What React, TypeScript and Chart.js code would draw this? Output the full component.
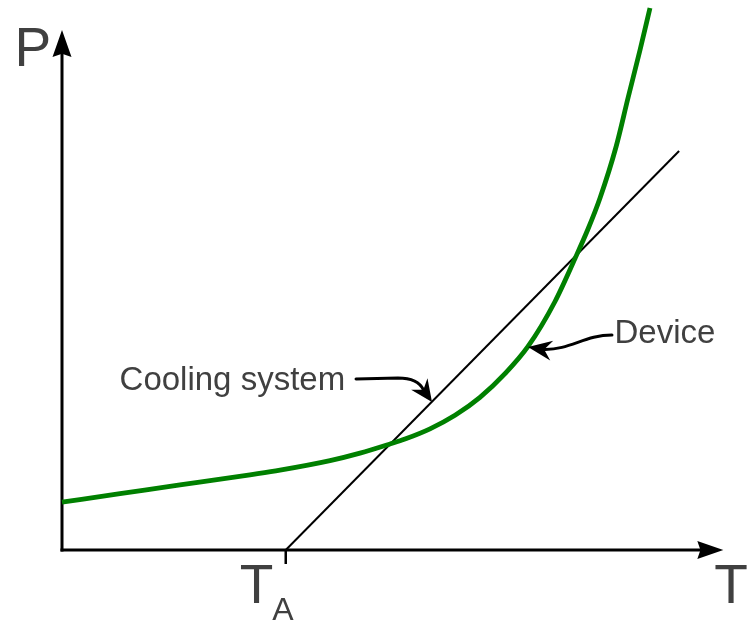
import React, { useEffect, useRef } from "react";
import { Chart, registerables } from "chart.js";

Chart.register(...registerables);

// Device power curve (T, P) in arbitrary units
const deviceT = [0.0, 0.879, 1.788, 2.848, 3.303, 4.061, 4.515, 4.97, 5.197, 5.576, 5.955, 6.333, 6.712, 7.061, 7.47, 7.773, 7.97, 8.152, 8.394, 8.576, 8.758, 8.909];
const deviceP = [0.887, 1.043, 1.204, 1.393, 1.478, 1.654, 1.793, 1.963, 2.054, 2.243, 2.494, 2.826, 3.265, 3.769, 4.602, 5.398, 5.944, 6.519, 7.463, 8.37, 9.259, 10.037];

// Cooling system line
const coolingT = [3.39, 9.35];
const coolingP = [0.0, 7.39];

// Ambient temperature tick
const ambientT = 3.39;

const axisLabelX = "T";
const axisLabelY = "P";
const ambientLabel = "T";
const ambientSub = "A";
const deviceLabel = "Device";
const coolingLabel = "Cooling system";

const TEXT = "#404040";
const FONT = "Liberation Sans, Arial, Helvetica, sans-serif";

function arrowHead(ctx: CanvasRenderingContext2D, tx: number, ty: number, fx: number, fy: number, len: number, hw: number, notch: number) {
  let dx = tx - fx;
  let dy = ty - fy;
  const d = Math.hypot(dx, dy) || 1;
  dx /= d;
  dy /= d;
  const px = -dy;
  const py = dx;
  const bx = tx - dx * len;
  const by = ty - dy * len;
  const nx = tx - dx * len * notch;
  const ny = ty - dy * len * notch;
  ctx.beginPath();
  ctx.moveTo(tx, ty);
  ctx.lineTo(bx + px * hw, by + py * hw);
  ctx.lineTo(nx, ny);
  ctx.lineTo(bx - px * hw, by - py * hw);
  ctx.closePath();
  ctx.fill();
}

const diagramPlugin = {
  id: "diagram",
  beforeDatasetsDraw(chart: any) {
    const ctx: CanvasRenderingContext2D = chart.ctx;
    const xs = chart.scales.x;
    const ys = chart.scales.y;
    const X = (v: number) => xs.getPixelForValue(v);
    const Y = (v: number) => ys.getPixelForValue(v);
    ctx.save();
    ctx.strokeStyle = "#000";
    ctx.fillStyle = "#000";
    ctx.lineWidth = 3;
    ctx.lineCap = "butt";
    const ox = X(0);
    const oy = Y(0);
    // vertical axis
    const vTip = Y(9.63);
    ctx.beginPath();
    ctx.moveTo(ox, oy + 1.5);
    ctx.lineTo(ox, vTip + 20);
    ctx.stroke();
    arrowHead(ctx, ox, vTip, ox, vTip + 10, 27, 9.5, 0.88);
    // horizontal axis
    const hTip = X(10.02);
    ctx.beginPath();
    ctx.moveTo(ox - 1.5, oy);
    ctx.lineTo(hTip - 20, oy);
    ctx.stroke();
    arrowHead(ctx, hTip, oy, hTip - 10, oy, 26, 9, 0.88);
    // ambient tick
    ctx.lineWidth = 2.5;
    ctx.beginPath();
    ctx.moveTo(X(ambientT), oy);
    ctx.lineTo(X(ambientT), oy + 14);
    ctx.stroke();
    ctx.restore();
  },
  afterDatasetsDraw(chart: any) {
    const ctx: CanvasRenderingContext2D = chart.ctx;
    const xs = chart.scales.x;
    const ys = chart.scales.y;
    const X = (v: number) => xs.getPixelForValue(v);
    const Y = (v: number) => ys.getPixelForValue(v);
    ctx.save();
    ctx.fillStyle = TEXT;
    ctx.textBaseline = "alphabetic";
    // axis labels
    ctx.font = `55px ${FONT}`;
    ctx.textAlign = "left";
    ctx.fillText(axisLabelY, X(-0.72), Y(8.963));
    ctx.textAlign = "center";
    ctx.fillText(axisLabelX, X(10.136), Y(-0.981));
    ctx.fillText(ambientLabel, X(2.947), Y(-0.981));
    ctx.font = `32px ${FONT}`;
    ctx.fillText(ambientSub, X(3.348), Y(-1.296));
    // annotation labels
    ctx.font = `33px ${FONT}`;
    ctx.textAlign = "right";
    ctx.fillText(coolingLabel, X(4.29), Y(2.963));
    ctx.textAlign = "left";
    ctx.fillText(deviceLabel, X(8.371), Y(3.833));

    // annotation arrows
    ctx.strokeStyle = "#000";
    ctx.fillStyle = "#000";
    ctx.lineWidth = 3;
    ctx.lineCap = "round";
    // cooling system arrow
    ctx.beginPath();
    ctx.moveTo(X(4.455), Y(3.167));
    ctx.lineTo(X(5.091), Y(3.185));
    ctx.quadraticCurveTo(X(5.394), Y(3.185), X(5.477), Y(2.963));
    ctx.stroke();
    arrowHead(ctx, X(5.606), Y(2.741), X(5.424), Y(3.056), 22, 10, 0.68);
    // device arrow
    ctx.beginPath();
    ctx.moveTo(X(8.333), Y(3.981));
    ctx.bezierCurveTo(X(7.924), Y(3.981), X(7.697), Y(3.704), X(7.303), Y(3.715));
    ctx.stroke();
    arrowHead(ctx, X(7.061), Y(3.759), X(7.409), Y(3.694), 24, 10, 0.68);
    ctx.restore();
  },
};

export default function App() {
  const ref = useRef<HTMLCanvasElement | null>(null);
  useEffect(() => {
    if (!ref.current) return;
    const chart = new Chart(ref.current, {
      type: "line",
      data: {
        datasets: [
          {
            label: "Device",
            data: deviceT.map((t, i) => ({ x: t, y: deviceP[i] })),
            borderColor: "#008000",
            borderWidth: 4.8,
            pointRadius: 0,
            cubicInterpolationMode: "monotone",
            fill: false,
            clip: false,
          } as any,
          {
            label: "Cooling system",
            data: coolingT.map((t, i) => ({ x: t, y: coolingP[i] })),
            borderColor: "#000000",
            borderWidth: 2,
            pointRadius: 0,
            fill: false,
            clip: false,
          } as any,
        ],
      },
      options: {
        responsive: false,
        animation: false,
        devicePixelRatio: 1,
        layout: { padding: { left: 62, right: 31, top: 10, bottom: 71 } },
        scales: {
          x: { type: "linear", min: 0, max: 10, display: false },
          y: { type: "linear", min: 0, max: 10, display: false },
        },
        plugins: { legend: { display: false }, tooltip: { enabled: false } },
      },
      plugins: [diagramPlugin],
    });
    return () => chart.destroy();
  }, []);
  return (
    <div style={{ position: "absolute", left: 0, top: 0, width: 753, height: 621, background: "#fff" }}>
      <canvas ref={ref} width={753} height={621} style={{ display: "block" }} />
    </div>
  );
}
